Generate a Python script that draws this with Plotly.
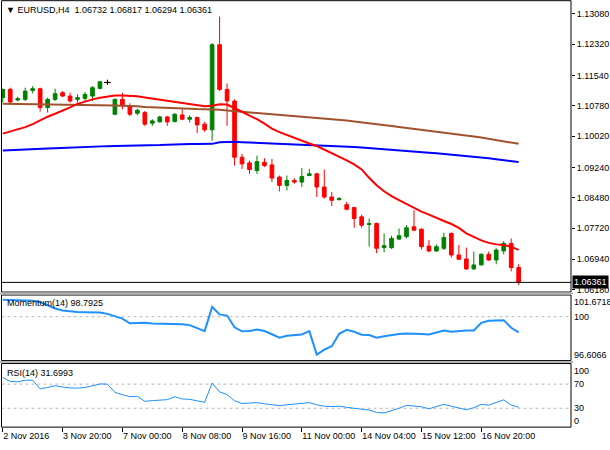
import plotly.graph_objects as go

# ---------------- data ----------------
symbol = "EURUSD,H4"
bars = list(range(70))

opens = [1.10984, 1.11191, 1.10925, 1.10942, 1.11166, 1.11208, 1.10736, 1.10942, 1.11109, 1.11024,
         1.10942, 1.10967, 1.11024, 1.11216, 1.11365, 1.10569, 1.10942, 1.10775, 1.10594, 1.10611,
         1.10345, 1.10378, 1.10502, 1.10388, 1.10552, 1.10445, 1.10487, 1.10321, 1.10179, 1.12309,
         1.11191, 1.10900, 1.09493, 1.09351, 1.09160, 1.09368, 1.09301, 1.08996, 1.08787, 1.08911,
         1.08871, 1.09035, 1.09078, 1.08747, 1.08498, 1.08431, 1.08307, 1.08232, 1.08001, 1.07810,
         1.07835, 1.07230, 1.07230, 1.07444, 1.07504, 1.07753, 1.07693, 1.07270, 1.07146, 1.07213,
         1.07586, 1.07046, 1.06947, 1.06698, 1.06798, 1.07064, 1.06922, 1.07146, 1.07337, 1.06732]
highs = [1.11208, 1.11233, 1.11009, 1.11233, 1.11273, 1.11233, 1.10984, 1.11208, 1.11148, 1.11109,
         1.11066, 1.11124, 1.11273, 1.11397, 1.11432, 1.10959, 1.11109, 1.10843, 1.10711, 1.10651,
         1.10445, 1.10527, 1.10527, 1.10594, 1.10693, 1.10544, 1.10512, 1.10378, 1.12352, 1.13013,
         1.11340, 1.10942, 1.09575, 1.09408, 1.09532, 1.09468, 1.09450, 1.09035, 1.09035, 1.08971,
         1.09219, 1.09202, 1.09102, 1.09184, 1.08623, 1.08498, 1.08374, 1.08250, 1.08058, 1.07959,
         1.07859, 1.07586, 1.07529, 1.07710, 1.07792, 1.08165, 1.07710, 1.07419, 1.07312, 1.07603,
         1.07611, 1.07295, 1.07230, 1.07131, 1.07089, 1.07131, 1.07213, 1.07395, 1.07462, 1.06817]
lows = [1.10860, 1.10835, 1.10892, 1.10900, 1.11091, 1.10636, 1.10611, 1.10900, 1.10999, 1.10860,
        1.10860, 1.10900, 1.10900, 1.11191, 1.11307, 1.10544, 1.10693, 1.10519, 1.10544, 1.10278,
        1.10278, 1.10363, 1.10278, 1.10363, 1.10420, 1.10363, 1.10097, 1.10129, 1.09905, 1.11148,
        1.10278, 1.09284, 1.09202, 1.09078, 1.09078, 1.09244, 1.08871, 1.08638, 1.08662, 1.08829,
        1.08747, 1.09020, 1.08498, 1.08456, 1.08275, 1.08414, 1.08165, 1.07728, 1.07728, 1.07255,
        1.07089, 1.07114, 1.07196, 1.07419, 1.07462, 1.07643, 1.07188, 1.07114, 1.07131, 1.07171,
        1.06982, 1.06922, 1.06674, 1.06674, 1.06783, 1.06897, 1.06815, 1.07064, 1.06634, 1.06294]
closes = [1.11191, 1.10875, 1.10959, 1.11148, 1.11208, 1.10736, 1.10942, 1.11084, 1.11024, 1.10900,
          1.10984, 1.11066, 1.11233, 1.11382, 1.11365, 1.10942, 1.10775, 1.10569, 1.10669, 1.10321,
          1.10403, 1.10502, 1.10378, 1.10569, 1.10445, 1.10487, 1.10303, 1.10179, 1.12309, 1.11191,
          1.10900, 1.09493, 1.09326, 1.09184, 1.09383, 1.09284, 1.08971, 1.08787, 1.08911, 1.08871,
          1.09010, 1.09078, 1.08747, 1.08498, 1.08414, 1.08456, 1.08190, 1.07959, 1.07792, 1.07827,
          1.07213, 1.07280, 1.07462, 1.07529, 1.07728, 1.07668, 1.07255, 1.07146, 1.07255, 1.07487,
          1.07046, 1.06940, 1.06698, 1.06798, 1.07064, 1.06922, 1.07171, 1.07337, 1.06733, 1.06361]

ma_red = [1.10084, 1.10134, 1.10189, 1.10246, 1.10321, 1.10420, 1.10507, 1.10582, 1.10656, 1.10743,
          1.10830, 1.10892, 1.10942, 1.10984, 1.11017, 1.11037, 1.11041, 1.11034, 1.11017, 1.10987,
          1.10959, 1.10935, 1.10905, 1.10880, 1.10850, 1.10818, 1.10793, 1.10768, 1.10780, 1.10818,
          1.10813, 1.10731, 1.10631, 1.10532, 1.10445, 1.10333, 1.10209, 1.10122, 1.10047, 1.09973,
          1.09898, 1.09836, 1.09774, 1.09687, 1.09600, 1.09513, 1.09413, 1.09314, 1.09189, 1.08978,
          1.08792, 1.08642, 1.08518, 1.08419, 1.08319, 1.08220, 1.08133, 1.08058, 1.07971, 1.07897,
          1.07822, 1.07723, 1.07586, 1.07499, 1.07412, 1.07350, 1.07312, 1.07295, 1.07250, 1.07176]
ma_brown = [1.10830, 1.10828, 1.10825, 1.10823, 1.10823, 1.10820, 1.10818, 1.10815, 1.10810, 1.10808,
            1.10803, 1.10800, 1.10795, 1.10793, 1.10788, 1.10785, 1.10780, 1.10778, 1.10768, 1.10753,
            1.10743, 1.10733, 1.10726, 1.10718, 1.10711, 1.10703, 1.10698, 1.10696, 1.10693, 1.10679,
            1.10661, 1.10646, 1.10629, 1.10611, 1.10599, 1.10594, 1.10574, 1.10557, 1.10539, 1.10519,
            1.10505, 1.10490, 1.10477, 1.10462, 1.10447, 1.10432, 1.10413, 1.10390, 1.10370, 1.10348,
            1.10323, 1.10301, 1.10273, 1.10248, 1.10226, 1.10201, 1.10179, 1.10156, 1.10132, 1.10109,
            1.10084, 1.10062, 1.10037, 1.10012, 1.09985, 1.09955, 1.09923, 1.09890, 1.09858, 1.09828]
ma_blue = [1.09662, 1.09667, 1.09674, 1.09682, 1.09692, 1.09699, 1.09709, 1.09719, 1.09729, 1.09736,
           1.09744, 1.09751, 1.09759, 1.09766, 1.09771, 1.09774, 1.09776, 1.09781, 1.09781, 1.09781,
           1.09784, 1.09798, 1.09808, 1.09818, 1.09823, 1.09823, 1.09823, 1.09823, 1.09828, 1.09866,
           1.09878, 1.09878, 1.09868, 1.09861, 1.09853, 1.09843, 1.09838, 1.09833, 1.09828, 1.09823,
           1.09813, 1.09803, 1.09794, 1.09784, 1.09776, 1.09766, 1.09756, 1.09749, 1.09739, 1.09726,
           1.09711, 1.09699, 1.09687, 1.09674, 1.09657, 1.09642, 1.09624, 1.09607, 1.09590, 1.09575,
           1.09560, 1.09542, 1.09525, 1.09508, 1.09490, 1.09468, 1.09445, 1.09421, 1.09396, 1.09371]

momentum = [101.303, 101.288, 101.273, 101.257, 101.234, 101.135, 100.904, 100.636, 100.482, 100.405,
            100.352, 100.344, 100.344, 100.329, 100.214, 100.060, 99.853, 99.484, 99.500, 99.523,
            99.477, 99.469, 99.469, 99.469, 99.408, 99.346, 99.116, 98.886, 100.751, 100.175,
            100.083, 99.177, 98.870, 98.893, 99.009, 98.886, 98.640, 98.372, 98.525, 98.602,
            98.625, 98.886, 97.067, 97.451, 97.719, 98.679, 98.986, 98.832, 98.602, 98.579,
            98.372, 98.487, 98.602, 98.663, 98.702, 98.702, 98.663, 98.625, 98.778, 98.932,
            98.832, 98.909, 98.932, 98.932, 99.523, 99.676, 99.692, 99.730, 99.139, 98.7925]
rsi = [81.0, 74.4, 73.9, 76.5, 76.5, 62.1, 64.5, 67.3, 65.3, 63.7,
       63.4, 64.5, 67.3, 70.3, 70.0, 56.3, 52.5, 49.2, 49.7, 41.5,
       42.6, 44.0, 44.3, 49.2, 45.4, 44.8, 42.6, 39.8, 71.9, 57.1,
       52.7, 42.3, 37.9, 38.2, 39.3, 37.4, 36.0, 34.4, 35.7, 36.5,
       37.4, 39.3, 35.7, 33.3, 32.8, 33.3, 31.6, 29.5, 28.3, 27.2,
       23.0, 22.2, 25.8, 30.0, 34.9, 34.1, 32.4, 29.1, 32.4, 36.5,
       33.3, 30.8, 27.5, 30.8, 36.5, 35.2, 39.0, 44.0, 35.4, 31.6993]

x_tick_bars = [0, 8, 16, 24, 32, 40, 48, 56, 64]
x_tick_labels = ["2 Nov 2016", "3 Nov 20:00", "7 Nov 00:00", "8 Nov 08:00", "9 Nov 16:00",
                 "11 Nov 00:00", "14 Nov 04:00", "15 Nov 12:00", "16 Nov 20:00"]
price_ticks = [1.13080, 1.12320, 1.11540, 1.10780, 1.10020, 1.09240, 1.08480, 1.07720, 1.06940, 1.06180]
mom_range = [96.6066, 101.6718]
mom_level = 100
rsi_levels = [70, 30]

# ---------------- layout helpers (pixel -> paper) ----------------
W, H = 610, 450
def px(x):
    return x / W
def py(y):
    return 1 - y / H

FONT = "Liberation Sans, Arial, sans-serif"
FS = 9
X0, X1 = px(1.5), px(571)

fig = go.Figure()

fig.add_trace(go.Candlestick(
    x=bars, open=opens, high=highs, low=lows, close=closes,
    increasing=dict(line=dict(color="#008000", width=1), fillcolor="#008000"),
    decreasing=dict(line=dict(color="#ff0000", width=1), fillcolor="#ff0000"),
    whiskerwidth=0, xaxis="x", yaxis="y", hoverinfo="skip"))

# doji candles (open == close) drawn black
doji = [i for i in bars if opens[i] == closes[i]]
for i in doji:
    fig.add_trace(go.Scatter(x=[bars[i], bars[i]], y=[lows[i], highs[i]], mode="lines",
                             line=dict(color="black", width=1), xaxis="x", yaxis="y"))
    fig.add_trace(go.Scatter(x=[bars[i]], y=[opens[i]], mode="markers",
                             marker=dict(symbol="line-ew", size=5, line=dict(color="black", width=1)),
                             xaxis="x", yaxis="y"))

fig.add_trace(go.Scatter(x=bars, y=ma_brown, mode="lines", line=dict(color="#a0522d", width=2), yaxis="y"))
fig.add_trace(go.Scatter(x=bars, y=ma_blue, mode="lines", line=dict(color="#0000ff", width=2), yaxis="y"))
fig.add_trace(go.Scatter(x=bars, y=ma_red, mode="lines", line=dict(color="#ff0000", width=2), yaxis="y"))

fig.add_trace(go.Scatter(x=bars, y=momentum, mode="lines", line=dict(color="#1e90ff", width=2), yaxis="y2"))
fig.add_trace(go.Scatter(x=bars, y=rsi, mode="lines", line=dict(color="#1e90ff", width=1), yaxis="y3"))

shapes = []
# frames of the three windows
for top, bot in [(0.7, 294), (297, 363), (366, 430)]:
    shapes.append(dict(type="rect", xref="paper", yref="paper", x0=X0, x1=X1, y0=py(bot), y1=py(top),
                       line=dict(color="black", width=1), fillcolor="rgba(0,0,0,0)", layer="above"))
for top, bot in [(294.5, 296.5), (363.5, 365.5)]:
    shapes.append(dict(type="rect", xref="paper", yref="paper", x0=0, x1=px(573), y0=py(bot), y1=py(top),
                       line=dict(width=0), fillcolor="#b4b4b4", layer="above"))
# level lines
shapes.append(dict(type="line", xref="paper", yref="y2", x0=X0, x1=X1, y0=mom_level, y1=mom_level,
                   line=dict(color="#b8b8b8", width=1, dash="3px,3px"), layer="below"))
for lv in rsi_levels:
    shapes.append(dict(type="line", xref="paper", yref="y3", x0=X0, x1=X1, y0=lv, y1=lv,
                       line=dict(color="#b8b8b8", width=1, dash="3px,3px"), layer="below"))
# current price line
shapes.append(dict(type="line", xref="paper", yref="y", x0=X0, x1=X1, y0=closes[-1], y1=closes[-1],
                   line=dict(color="black", width=1), layer="above"))

tf = dict(family=FONT, size=FS, color="black")
annotations = [
    dict(xref="paper", yref="paper", x=px(4), y=py(10), xanchor="left", yanchor="middle", showarrow=False,
         text=f"▼ {symbol}  {opens[-1]:.5f} {highs[-1]:.5f} {lows[-1]:.5f} {closes[-1]:.5f}", font=tf),
    dict(xref="paper", yref="paper", x=px(5), y=py(305), xanchor="left", yanchor="middle", showarrow=False,
         text=f"Momentum(14) {momentum[-1]:.4f}", font=tf),
    dict(xref="paper", yref="paper", x=px(5), y=py(375), xanchor="left", yanchor="middle", showarrow=False,
         text=f"RSI(14) {rsi[-1]:.4f}", font=tf),
    dict(xref="paper", yref="y", x=px(572), y=closes[-1], xanchor="left", yanchor="middle", showarrow=False,
         text=f"{closes[-1]:.5f}", font=dict(family=FONT, size=FS, color="white"), bgcolor="black", borderpad=1),
    # indicator scale labels
    dict(xref="paper", yref="paper", x=px(572), y=py(297), xanchor="left", yanchor="top", showarrow=False,
         text=f"{mom_range[1]:.4f}", font=tf),
    dict(xref="paper", yref="y2", x=px(572), y=mom_level, xanchor="left", yanchor="middle", showarrow=False,
         text=f"{mom_level}", font=tf),
    dict(xref="paper", yref="paper", x=px(572), y=py(364), xanchor="left", yanchor="bottom", showarrow=False,
         text=f"{mom_range[0]:.4f}", font=tf),
    dict(xref="paper", yref="paper", x=px(572), y=py(366), xanchor="left", yanchor="top", showarrow=False,
         text="100", font=tf),
    dict(xref="paper", yref="paper", x=px(572), y=py(431), xanchor="left", yanchor="bottom", showarrow=False,
         text="0", font=tf),
]
for lv in rsi_levels:
    annotations.append(dict(xref="paper", yref="y3", x=px(572), y=lv, xanchor="left", yanchor="middle",
                            showarrow=False, text=f"{lv}", font=tf))

fig.update_layout(
    width=W, height=H, margin=dict(l=0, r=0, t=0, b=0),
    paper_bgcolor="white", plot_bgcolor="white", showlegend=False,
    font=tf, hovermode=False,
    xaxis=dict(domain=[X0, X1], range=[-0.17, 76.0], anchor="y3", showgrid=False, zeroline=False,
               tickvals=x_tick_bars, ticktext=x_tick_labels, ticks="outside", ticklen=4, tickcolor="black",
               ticklabelposition="outside right", tickangle=0, tickfont=tf,
               rangeslider=dict(visible=False), showline=False, fixedrange=True),
    yaxis=dict(domain=[py(294), py(0.7)], range=[1.06119, 1.13411], side="right", anchor="x",
               showgrid=False, zeroline=False, tickvals=price_ticks,
               ticktext=[f"{v:.5f}" for v in price_ticks], ticks="outside", ticklen=3,
               tickcolor="black", tickfont=tf),
    yaxis2=dict(domain=[py(363), py(297)], range=mom_range, side="right", anchor="x",
                showgrid=False, zeroline=False, showticklabels=False, ticks=""),
    yaxis3=dict(domain=[py(430), py(366)], range=[-1.3, 104.1], side="right", anchor="x",
                showgrid=False, zeroline=False, showticklabels=False, ticks=""),
    shapes=shapes, annotations=annotations,
)

fig.write_html("out.html", config={"displayModeBar": False, "staticPlot": True},
               post_script="document.body.style.margin='0px';document.body.style.padding='0px';")
